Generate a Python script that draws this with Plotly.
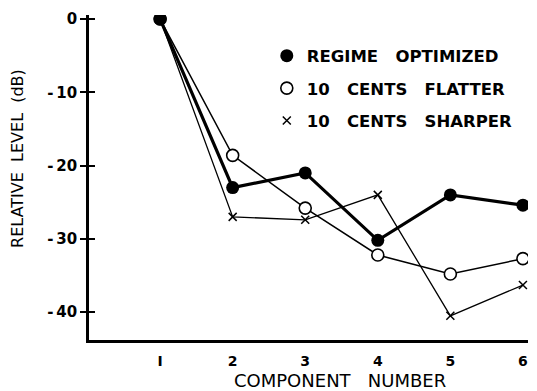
import plotly.graph_objects as go

components = [1, 2, 3, 4, 5, 6]
regime_optimized = [0, -23.0, -21.0, -30.2, -24.0, -25.4]
cents_flatter = [0, -18.6, -25.8, -32.2, -34.8, -32.7]
cents_sharper = [0, -27.0, -27.4, -24.0, -40.5, -36.3]
y_ticks = [0, -10, -20, -30, -40]
y_tick_labels = ["0", "-\u200910", "-\u200920", "-\u200930", "-\u200940"]
x_ticks = [1, 2, 3, 4, 5, 6]
x_tick_labels = ["I", "2", "3", "4", "5", "6"]
x_title = "COMPONENT   NUMBER"
y_title = "RELATIVE  LEVEL  (dB)"

FONT = "DejaVu Sans"
fig = go.Figure()

fig.add_trace(go.Scatter(x=components, y=cents_sharper, mode="lines+markers",
                         line=dict(color="black", width=1.3),
                         marker=dict(symbol="x-thin", size=8, line=dict(color="black", width=1.5)),
                         showlegend=False, hoverinfo="skip"))
fig.add_trace(go.Scatter(x=components, y=cents_flatter, mode="lines+markers",
                         line=dict(color="black", width=1.5),
                         marker=dict(symbol="circle", size=12, color="white", line=dict(color="black", width=1.6)),
                         showlegend=False, hoverinfo="skip"))
fig.add_trace(go.Scatter(x=components, y=regime_optimized, mode="lines+markers",
                         line=dict(color="black", width=3.2),
                         marker=dict(symbol="circle", size=13, color="black"),
                         showlegend=False, hoverinfo="skip"))
# invisible trace so the overlay axis (inner tick half) is drawn
fig.add_trace(go.Scatter(x=components, y=regime_optimized, yaxis="y2", mode="markers",
                         marker=dict(opacity=0), showlegend=False, hoverinfo="skip"))

# legend-only traces
legend_items = [
    ("REGIME   OPTIMIZED", dict(symbol="circle", size=13, color="black")),
    ("10   CENTS   FLATTER", dict(symbol="circle", size=12, color="white", line=dict(color="black", width=1.6))),
    ("10   CENTS   SHARPER", dict(symbol="x-thin", size=8, line=dict(color="black", width=1.5))),
]
for i, (name, mk) in enumerate(legend_items):
    fig.add_trace(go.Scatter(x=[None], y=[None], mode="markers", marker=mk, name=name,
                             legendgroup=f"g{i}", showlegend=True))

fig.update_layout(
    width=537, height=391,
    margin=dict(l=89, r=9, t=15, b=51),
    paper_bgcolor="white", plot_bgcolor="white",
    font=dict(family=FONT, size=14, color="black"),
    legend=dict(x=0.405, y=0.928, xanchor="left", yanchor="top", bgcolor="rgba(0,0,0,0)",
                tracegroupgap=8, traceorder="grouped", itemwidth=30,
                font=dict(family=FONT, size=16.5, color="black", weight="bold")),
    xaxis=dict(range=[0.02, 6.07], tickvals=x_ticks, ticktext=x_tick_labels, automargin=False,
               showline=True, linecolor="black", linewidth=2.5, showgrid=False, zeroline=False,
               ticks="", ticklabelstandoff=6, tickfont=dict(size=14, weight="bold")),
    yaxis=dict(range=[-43.8, 0.55], tickvals=y_ticks, ticktext=y_tick_labels, automargin=False,
               showline=True, linecolor="black", linewidth=2.5, showgrid=False, zeroline=False,
               ticks="outside", ticklen=6, tickwidth=2, tickcolor="black",
               tickfont=dict(size=15, weight="bold")),
    yaxis2=dict(overlaying="y", matches="y", side="left", tickvals=y_ticks, showticklabels=False,
                ticks="inside", ticklen=6, tickwidth=2, tickcolor="black", showgrid=False,
                zeroline=False, showline=False, automargin=False),
    annotations=[
        dict(text=x_title, xref="paper", yref="paper", x=0.572, y=-0.085, xanchor="center",
             yanchor="top", showarrow=False, font=dict(size=18)),
        dict(text=y_title, xref="paper", yref="paper", x=-0.162, y=0.56, xanchor="center",
             yanchor="middle", textangle=-90, showarrow=False, font=dict(size=16)),
    ],
)

fig.write_html("out.html", post_script="document.body.style.margin='0';",
               config={"displayModeBar": False})
